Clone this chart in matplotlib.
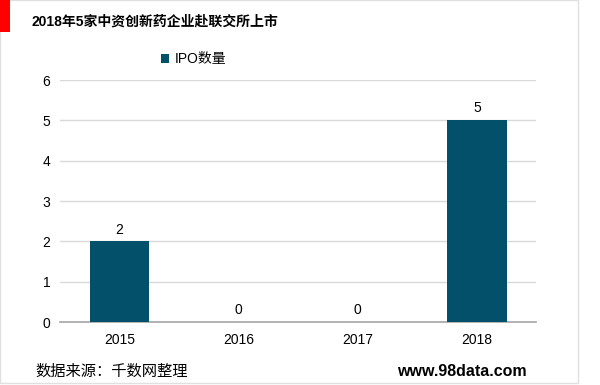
import matplotlib
matplotlib.use("Agg")
import matplotlib.pyplot as plt
from matplotlib.patches import Rectangle

plt.rcParams['font.family'] = ['Liberation Sans', 'Noto Sans CJK SC', 'DejaVu Sans']

years = ['2015', '2016', '2017', '2018']
ipo_counts = [2, 0, 0, 5]
legend_label = 'IPO数量'
title = '2018年5家中资创新药企业赴联交所上市'
source = '数据来源：千数网整理'
site = 'www.98data.com'

bar_color = '#03506B'

fig = plt.figure(figsize=(6, 3.85), dpi=100)
ax = fig.add_axes([0.1, 0.1636, 0.794, 0.6286])

x = range(len(years))
bars = ax.bar(x, ipo_counts, width=0.5, color=bar_color, label=legend_label, zorder=3)
for xi, v in zip(x, ipo_counts):
    ax.text(xi, v + 0.12, str(v), ha='center', va='bottom', fontsize=10)

ax.set_xticks(list(x))
ax.set_xticklabels(years, fontsize=10)
ax.set_xlim(-0.5, len(years) - 0.5)
ax.set_ylim(0, 6)
ax.set_yticks(range(7))
ax.tick_params(axis='y', labelsize=10, length=0, pad=7)
ax.tick_params(axis='x', length=0, pad=8)
ax.grid(axis='y', color='#d9d9d9', linewidth=1, zorder=0)
for s in ['top', 'right', 'left']:
    ax.spines[s].set_visible(False)
ax.spines['bottom'].set_color('#a6a6a6')
ax.spines['bottom'].set_linewidth(1.2)

ax.legend(loc='lower left', bbox_to_anchor=(0.185, 1.005), frameon=False,
          fontsize=10, handlelength=0.6, handleheight=0.6, handletextpad=0.4)

# frame and header decorations
fig.patches.append(Rectangle((0, 1 - 383 / 385), 578 / 600, 383 / 385, transform=fig.transFigure,
                             fill=False, edgecolor='#e0e0e0', linewidth=1))
fig.patches.append(Rectangle((0, 1 - 32 / 385), 10 / 600, 32 / 385, transform=fig.transFigure,
                             facecolor='#ff0000', edgecolor='none'))
fig.text(31 / 600, 1 - 22 / 385, title, fontsize=10, fontweight='bold', va='center')
fig.text(35 / 600, 1 - 372 / 385, source, fontsize=11, va='center')
fig.text(527 / 600, 1 - 372 / 385, site, fontsize=11.5, fontweight='bold', va='center', ha='right')

fig.savefig('out.png', dpi=100)
